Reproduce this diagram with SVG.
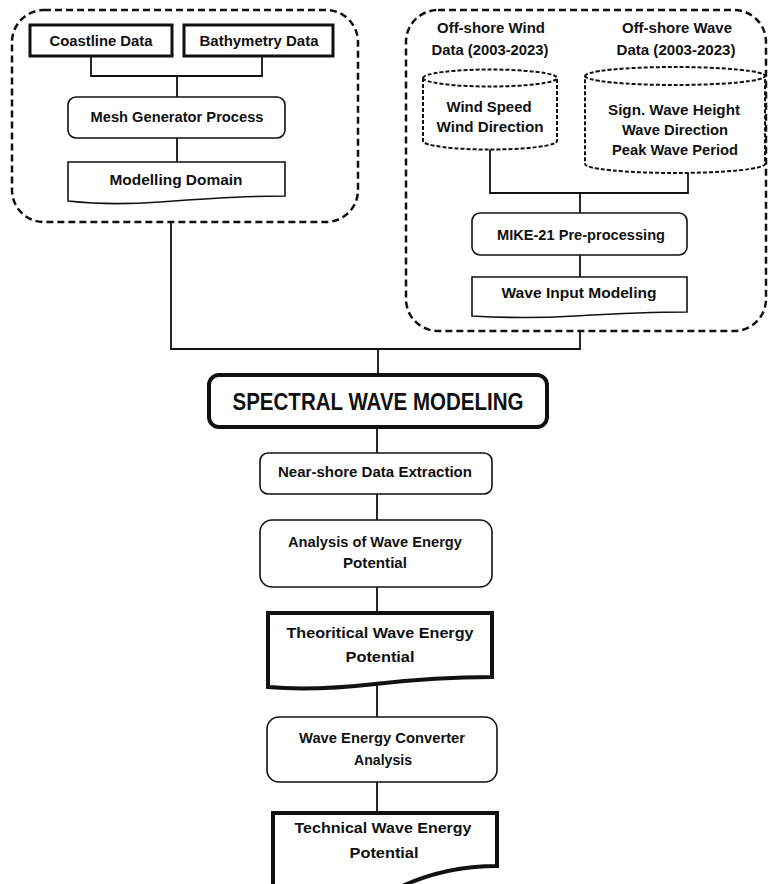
<svg xmlns="http://www.w3.org/2000/svg" width="769" height="884" viewBox="0 0 769 884">
<style>
text{font-family:"Liberation Sans",Arial,sans-serif;font-weight:bold;font-size:15px;fill:#111;text-anchor:middle}
.big{font-size:24px}
.cont{fill:none;stroke:#111;stroke-width:2.5;stroke-dasharray:7 4}
.thin{fill:#fff;stroke:#111;stroke-width:1.6}
.thick3{fill:#fff;stroke:#111;stroke-width:3}
.thick4{fill:#fff;stroke:#111;stroke-width:4}
.cyl{fill:#fff;stroke:#111;stroke-width:2;stroke-dasharray:4 2}
.conn{fill:none;stroke:#111;stroke-width:1.8}
</style>
<rect width="769" height="884" fill="#fff"/>
<g id="container-left"><rect class="cont" x="12" y="10" width="346" height="212" rx="32"/></g>
<g id="container-right"><rect class="cont" x="406" y="10" width="360" height="321" rx="32"/></g>
<g id="connectors">
<path class="conn" d="M91,56 V76 H262 V56 M177,76 V97"/>
<path class="conn" d="M177,138 V162"/>
<path class="conn" d="M171,222 V349 H580 V331 M378,349 V375"/>
<path class="conn" d="M490,149 V193 H688 V172 M580,193 V213"/>
<path class="conn" d="M580,255 V277"/>
<path class="conn" d="M377,427 V453 M377,494 V520 M377,587 V613 M377,683 V717 M377,782 V813"/>
</g>
<g id="coastline"><rect class="thick3" x="30" y="25" width="142" height="31"/><text x="101" y="46" textLength="103" lengthAdjust="spacingAndGlyphs">Coastline Data</text></g>
<g id="bathymetry"><rect class="thick3" x="184" y="25" width="149" height="31"/><text x="259" y="46" textLength="119" lengthAdjust="spacingAndGlyphs">Bathymetry Data</text></g>
<g id="mesh"><rect class="thin" x="68" y="97" width="217" height="41" rx="8"/><text x="177" y="122" textLength="173" lengthAdjust="spacingAndGlyphs">Mesh Generator Process</text></g>
<g id="modelling-domain"><path class="thin" d="M68,162 H285 V196 C240,196 200,199 160,202 C120,205 95,204 68,201 Z"/><text x="176" y="185" textLength="133" lengthAdjust="spacingAndGlyphs">Modelling Domain</text></g>
<g id="wind-label"><text x="491" y="33" textLength="108" lengthAdjust="spacingAndGlyphs">Off-shore Wind</text><text x="490" y="55" textLength="117" lengthAdjust="spacingAndGlyphs">Data (2003-2023)</text></g>
<g id="wave-label"><text x="677" y="33" textLength="110" lengthAdjust="spacingAndGlyphs">Off-shore Wave</text><text x="676" y="55" textLength="119" lengthAdjust="spacingAndGlyphs">Data (2003-2023)</text></g>
<g id="wind-data"><path class="cyl" d="M423,78 A67,8.5 0 0 1 557,78 V141 A67,8.5 0 0 1 423,141 Z M423,78 A67,8.5 0 0 0 557,78"/><text x="489" y="112" textLength="85" lengthAdjust="spacingAndGlyphs">Wind Speed</text><text x="490" y="132" textLength="107" lengthAdjust="spacingAndGlyphs">Wind Direction</text></g>
<g id="wave-data"><path class="cyl" d="M585,76 A90,9 0 0 1 765,76 V164 A90,9 0 0 1 585,164 Z M585,76 A90,9 0 0 0 765,76"/><text x="674" y="115" textLength="132" lengthAdjust="spacingAndGlyphs">Sign. Wave Height</text><text x="675" y="135" textLength="106" lengthAdjust="spacingAndGlyphs">Wave Direction</text><text x="675" y="155" textLength="126" lengthAdjust="spacingAndGlyphs">Peak Wave Period</text></g>
<g id="mike21"><rect class="thin" x="472" y="213" width="215" height="42" rx="8"/><text x="581" y="240" textLength="168" lengthAdjust="spacingAndGlyphs">MIKE-21 Pre-processing</text></g>
<g id="wave-input"><path class="thin" d="M472,277 H687 V312 C645,312 610,314 575,316 C540,318 505,318 472,316 Z"/><text x="579" y="298" textLength="155" lengthAdjust="spacingAndGlyphs">Wave Input Modeling</text></g>
<g id="spectral"><rect class="thick4" x="209" y="375" width="338" height="52" rx="10"/><text class="big" x="378" y="410" textLength="291" lengthAdjust="spacingAndGlyphs">SPECTRAL WAVE MODELING</text></g>
<g id="nearshore"><rect class="thin" x="260" y="453" width="232" height="41" rx="8"/><text x="375" y="477" textLength="194" lengthAdjust="spacingAndGlyphs">Near-shore Data Extraction</text></g>
<g id="analysis"><rect class="thin" x="260" y="520" width="232" height="67" rx="12"/><text x="375" y="547" textLength="174" lengthAdjust="spacingAndGlyphs">Analysis of Wave Energy</text><text x="375" y="568" textLength="64" lengthAdjust="spacingAndGlyphs">Potential</text></g>
<g id="theoretical"><path class="thick4" d="M268,613 H492 V677 C445,677 410,680 375,684 C330,689 300,690 268,687 Z"/><text x="380" y="638" textLength="187" lengthAdjust="spacingAndGlyphs">Theoritical Wave Energy</text><text x="380" y="662" textLength="69" lengthAdjust="spacingAndGlyphs">Potential</text></g>
<g id="wec"><rect class="thin" x="267" y="717" width="230" height="65" rx="12"/><text x="382" y="743" textLength="166" lengthAdjust="spacingAndGlyphs">Wave Energy Converter</text><text x="383" y="765" textLength="58" lengthAdjust="spacingAndGlyphs">Analysis</text></g>
<g id="technical"><path class="thick4" d="M273,813 H497 V866 C460,866 430,873 400,887 L273,887 Z"/><text x="383" y="833" textLength="177" lengthAdjust="spacingAndGlyphs">Technical Wave Energy</text><text x="384" y="858" textLength="69" lengthAdjust="spacingAndGlyphs">Potential</text></g>
</svg>
